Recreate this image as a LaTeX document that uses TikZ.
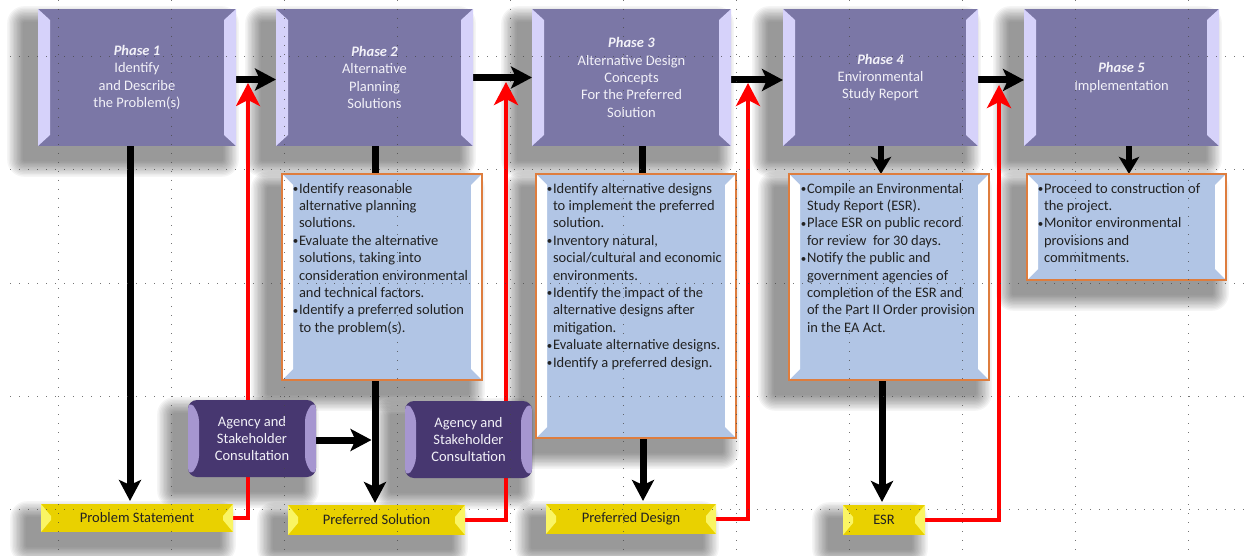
\documentclass[tikz,border=0pt]{standalone}
\usepackage{fontspec}
\setmainfont{Carlito}
\usetikzlibrary{arrows.meta}
\pgfdeclarelayer{shadow}
\pgfdeclarelayer{lines}
\pgfdeclarelayer{grid}
\pgfsetlayers{shadow,lines,main,grid}
\definecolor{phasefill}{RGB}{123,119,166}
\definecolor{phasebev}{RGB}{214,210,250}
\definecolor{bluefill}{RGB}{177,197,229}
\definecolor{blueedge}{RGB}{222,125,62}
\definecolor{agfill}{RGB}{71,55,112}
\definecolor{agbev}{RGB}{166,150,208}
\definecolor{yfill}{RGB}{233,209,0}
\definecolor{ybev}{RGB}{250,245,100}
\definecolor{txtdark}{RGB}{34,34,34}
\definecolor{txtlight}{RGB}{242,241,248}
\definecolor{gridc}{RGB}{70,70,70}
\newcommand\ph[1]{\textbf{\textit{#1}}}
\newcommand\bul{\llap{\raisebox{0.6pt}{\fontsize{11}{11}\selectfont•}\kern0.6pt}}
\newcommand\dropshadow[1]{%
  \foreach \k in {1,...,12}{%
    \pgfmathsetmacro\e{\k*1.4}%
    \fill[black, opacity=0.04, rounded corners=\e pt]
      ([shift={(-14-\e,14-\e)}]#1.north west) rectangle ([shift={(-14+\e,14+\e)}]#1.south east);
  }}
\tikzset{
  f/.style={font=\fontsize{14.5}{17.4}\selectfont},
  bevelbox/.style n args={3}{path picture={
     \fill[#1] (path picture bounding box.north west) -- ++(#2,#3)
        -- ([shift={(#2,-#3)}]path picture bounding box.south west)
        -- (path picture bounding box.south west) -- cycle;
     \fill[#1] (path picture bounding box.north east) -- ++(-#2,#3)
        -- ([shift={(-#2,-#3)}]path picture bounding box.south east)
        -- (path picture bounding box.south east) -- cycle;
  }},
  phase/.style={fill=phasefill, text=txtlight, f, align=center, inner sep=0pt, outer sep=0pt,
     minimum height=137pt, bevelbox={phasebev}{12}{11}},
  bbox/.style={fill=bluefill, draw=blueedge, line width=1.3pt, inner sep=0pt, outer sep=0pt,
     bevelbox={white}{11}{11}},
  ltxt/.style={f, anchor=north west, align=left, inner sep=0pt, outer sep=0pt, text=txtdark},
  agency/.style={fill=agfill, rounded corners=9pt, text=txtlight, f, align=center, inner sep=0pt,
     outer sep=0pt, bevelbox={agbev}{11}{12}},
  ybox/.style={fill=yfill, text=txtdark, f, inner sep=0pt, outer sep=0pt, bevelbox={ybev}{10}{12}},
  barrow/.style={line width=7pt, -{Stealth[length=21pt,width=22pt,inset=5pt]}},
  bline/.style={line width=7pt},
  sarrow/.style={line width=6pt, -{Stealth[length=17pt,width=20pt,inset=4pt]}},
  rarrow/.style={draw=red, line width=4pt, line join=miter, -{Stealth[length=23pt,width=24pt,inset=6pt]}},
  gridl/.style={draw=gridc, opacity=0.75, line width=1pt, dash pattern=on 1pt off 8pt},
}
\begin{document}
\begin{tikzpicture}[x=1pt,y=-1pt]
\useasboundingbox (0,0) rectangle (1247,556);

% phase boxes
\node[phase, minimum width=198pt] (p1) at (137,77.5) {\ph{Phase 1}\\Identify\\and Describe\\the Problem(s)};
\node[phase, minimum width=197pt] (p2) at (374.5,77.5) {\ph{Phase 2}\\Alternative\\Planning\\Solutions};
\node[phase, minimum width=199pt] (p3) at (631.5,77.5) {\ph{Phase 3}\\Alternative Design\\Concepts\\For the Preferred\\Solution};
\node[phase, minimum width=195pt] (p4) at (880.5,77.5) {\ph{Phase 4}\\Environmental\\Study Report};
\node[phase, minimum width=195pt] (p5) at (1121.5,77.5) {\ph{Phase 5}\\Implementation};

% activity boxes
\node[bbox, minimum width=200pt, minimum height=206pt] (b2) at (382,277) {};
\node[bbox, minimum width=200pt, minimum height=264pt] (b3) at (636,306) {};
\node[bbox, minimum width=200pt, minimum height=206pt] (b4) at (889,277) {};
\node[bbox, minimum width=199pt, minimum height=106pt] (b5) at (1126.5,227) {};

\node[ltxt] (t2) at (299,183) {\bul Identify reasonable\\alternative planning\\solutions.\\\bul Evaluate the alternative\\solutions, taking into\\consideration environmental\\and technical factors.\\\bul Identify a preferred solution\\to the problem(s).};
\node[ltxt] (t3) at (553,183) {\bul Identify alternative designs\\to implement the preferred\\solution.\\\bul Inventory natural,\\social/cultural and economic\\environments.\\\bul Identify the impact of the\\alternative designs after\\mitigation.\\\bul Evaluate alternative designs.\\\bul Identify a preferred design.};
\node[ltxt] (t4) at (807,183) {\bul Compile an Environmental\\Study Report (ESR).\\\bul Place ESR on public record\\for review~ for 30 days.\\\bul Notify the public and\\government agencies of\\completion of the ESR and\\of the Part II Order provision\\in the EA Act.};
\node[ltxt] (t5) at (1044,183) {\bul Proceed to construction of\\the project.\\\bul Monitor environmental\\provisions and\\commitments.};

% consultation boxes
\node[agency, minimum width=128pt, minimum height=77pt] (a1) at (252,438.5) {Agency and\\Stakeholder\\Consultation};
\node[agency, minimum width=127pt, minimum height=77pt] (a2) at (468.5,439.5) {Agency and\\Stakeholder\\Consultation};

% outputs
\node[ybox, minimum width=192pt, minimum height=28pt] (y1) at (137,518) {Problem Statement};
\node[ybox, minimum width=177pt, minimum height=30pt] (y2) at (376.5,520) {Preferred Solution};
\node[ybox, minimum width=170pt, minimum height=30pt] (y3) at (631,519) {Preferred Design};
\node[ybox, minimum width=82pt, minimum height=30pt] (y4) at (884,520) {ESR};

\coordinate (r1) at (248,83);
\coordinate (r2) at (506,82);
\coordinate (r3) at (748,83);
\coordinate (r4) at (999,85);
\coordinate (v1) at ([xshift=-7pt]p1.south);
\coordinate (v2) at ([xshift=0.5pt]p2.south);
\coordinate (v3) at ([xshift=10.5pt]p3.south);
\coordinate (v3b) at ([xshift=7pt]b3.south);
\coordinate (v4) at ([xshift=0.5pt]p4.south);
\coordinate (v4b) at ([xshift=-7pt]b4.south);
\coordinate (v5) at ([xshift=7.5pt]p5.south);
\coordinate (a1r) at ([yshift=-1.5pt]a1.east);

\begin{pgfonlayer}{lines}
\draw[barrow] ([yshift=-2pt]p1.east) -- ([yshift=-2pt]p2.west);
\draw[barrow] (p2.east) -- (p3.west);
\draw[barrow] ([yshift=-2.5pt]p3.east) -- ([yshift=-2.5pt]p4.west);
\draw[barrow] ([yshift=-2.5pt]p4.east) -- ([yshift=-2.5pt]p5.west);
\draw[barrow, shorten >=3pt] (v1) -- (v1 |- y1.north);
\draw[barrow, shorten >=2pt] (v2) -- (v2 |- y2.north);
\draw[barrow, shorten >=3.5pt] (a1r) -- (v2 |- a1r);
\draw[bline] (v3) -- (v3 |- b3.north);
\draw[barrow, shorten >=3pt] (v3b) -- (v3b |- y3.north);
\draw[sarrow] (v4) -- (v4 |- b4.north);
\draw[barrow, shorten >=3pt] (v4b) -- (v4b |- y4.north);
\draw[sarrow] (v5) -- (v5 |- b5.north);
\draw[rarrow] (y1.east) -| (r1);
\draw[rarrow] (y2.east) -| (r2);
\draw[rarrow] (y3.east) -| (r3);
\draw[rarrow] (y4.east) -| (r4);
\end{pgfonlayer}

\begin{pgfonlayer}{shadow}
\fill[white] (0,0) rectangle (1247,556);
\foreach \n in {p1,p2,p3,p4,p5,b2,b3,b4,b5,a1,a2,y1,y2,y3,y4}{\dropshadow{\n}}
\end{pgfonlayer}

\begin{pgfonlayer}{grid}
\foreach \x in {58,171,284,397,510,623,736,849,962,1075,1188}{\draw[gridl] (\x,0) -- (\x,556);}
\foreach \y in {57,170,283,396,509}{\draw[gridl] (10,\y) -- (1247,\y);}
\end{pgfonlayer}
\end{tikzpicture}
\end{document}
